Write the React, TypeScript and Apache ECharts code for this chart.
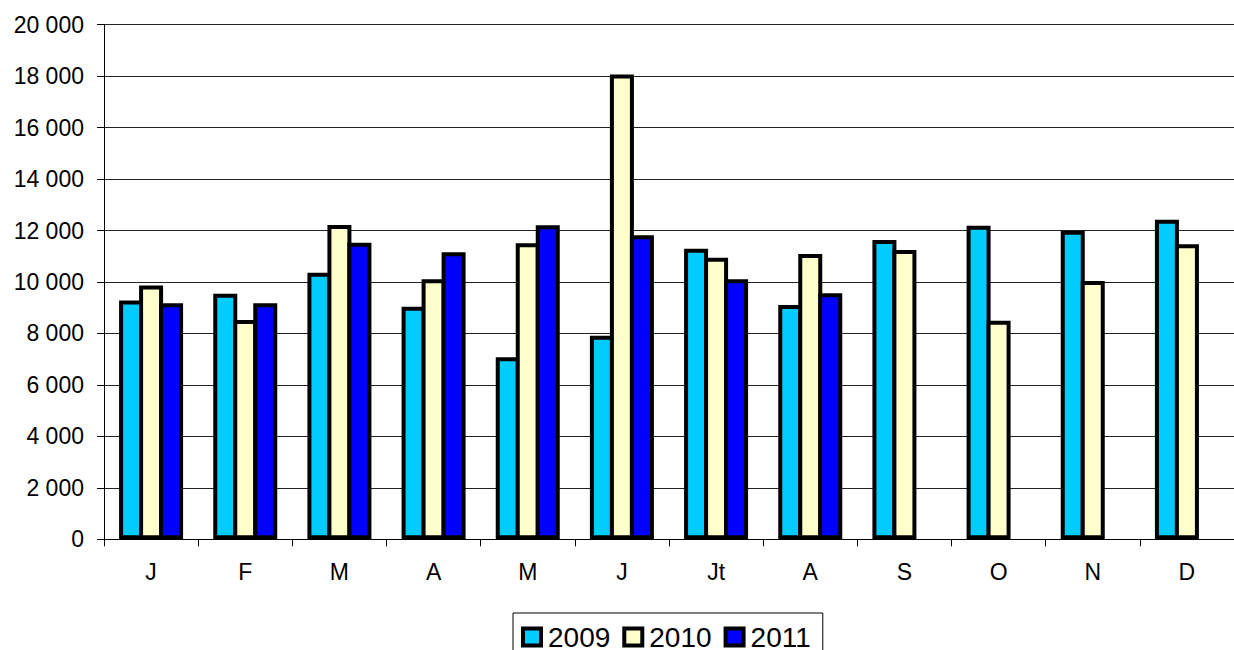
import React, { useEffect, useRef } from "react";
import * as echarts from "echarts";

const categories = ["J", "F", "M", "A", "M", "J", "Jt", "A", "S", "O", "N", "D"];
const series2009 = [9280, 9545, 10360, 9040, 7075, 7915, 11295, 9105, 11630, 12190, 11995, 12420];
const series2010 = [9860, 8520, 12215, 10105, 11505, 18060, 10945, 11090, 11245, 8495, 10040, 11465];
const series2011: (number | null)[] = [9170, 9170, 11530, 11155, 12205, 11815, 10105, 9560, null, null, null, null];
const yTicks = { min: 0, max: 20000, interval: 2000 };

const FONT = "Liberation Sans, Arial, sans-serif";

function fmt(v: number): string {
  return String(v).replace(/\B(?=(\d{3})+(?!\d))/g, " ");
}

export default function App() {
  const ref = useRef<HTMLDivElement>(null);
  useEffect(() => {
    if (!ref.current) return;
    const chart = echarts.init(ref.current, undefined, { renderer: "svg" });
    const mk = (name: string, data: (number | null)[], color: string) => ({
      name,
      type: "bar",
      data,
      barWidth: 24,
      barGap: "-16.67%",
      itemStyle: { color, borderColor: "#000", borderWidth: 4 },
    });
    chart.setOption({
      animation: false,
      backgroundColor: "#fff",
      textStyle: { fontFamily: FONT },
      grid: { left: 104, right: 0, top: 24.7, bottom: 110.7, containLabel: false },
      legend: {
        left: 513,
        top: 613,
        padding: [10, 12, 10, 8],
        itemWidth: 18,
        itemHeight: 17,
        itemGap: 12,
        borderColor: "#000",
        borderWidth: 1,
        icon: "rect",
        itemStyle: { borderColor: "#000", borderWidth: 4 },
        textStyle: { fontSize: 28, color: "#000", fontFamily: FONT, padding: [0, 0, 0, 2] },
        data: ["2009", "2010", "2011"],
      },
      xAxis: {
        type: "category",
        data: categories,
        axisLine: { lineStyle: { color: "#000", width: 1 } },
        axisTick: { show: true, length: 7, lineStyle: { color: "#000" } },
        axisLabel: { fontSize: 23, color: "#000", margin: 21, fontFamily: FONT },
      },
      yAxis: {
        type: "value",
        min: yTicks.min,
        max: yTicks.max,
        interval: yTicks.interval,
        axisLine: { show: true, lineStyle: { color: "#000", width: 1 } },
        axisTick: { show: true, length: 7, inside: false, lineStyle: { color: "#000" } },
        axisLabel: {
          fontSize: 23,
          color: "#000",
          margin: 20,
          fontFamily: FONT,
          formatter: (v: number) => fmt(v),
        },
        splitLine: { show: true, lineStyle: { color: "#222", width: 1 } },
      },
      series: [
        mk("2009", series2009, "#00CCFF"),
        mk("2010", series2010, "#FFFFCC"),
        mk("2011", series2011, "#0000FF"),
      ],
    });
    return () => chart.dispose();
  }, []);
  return (
    <div
      ref={ref}
      style={{ position: "fixed", left: 0, top: 0, width: 1234, height: 650, background: "#fff" }}
    />
  );
}
